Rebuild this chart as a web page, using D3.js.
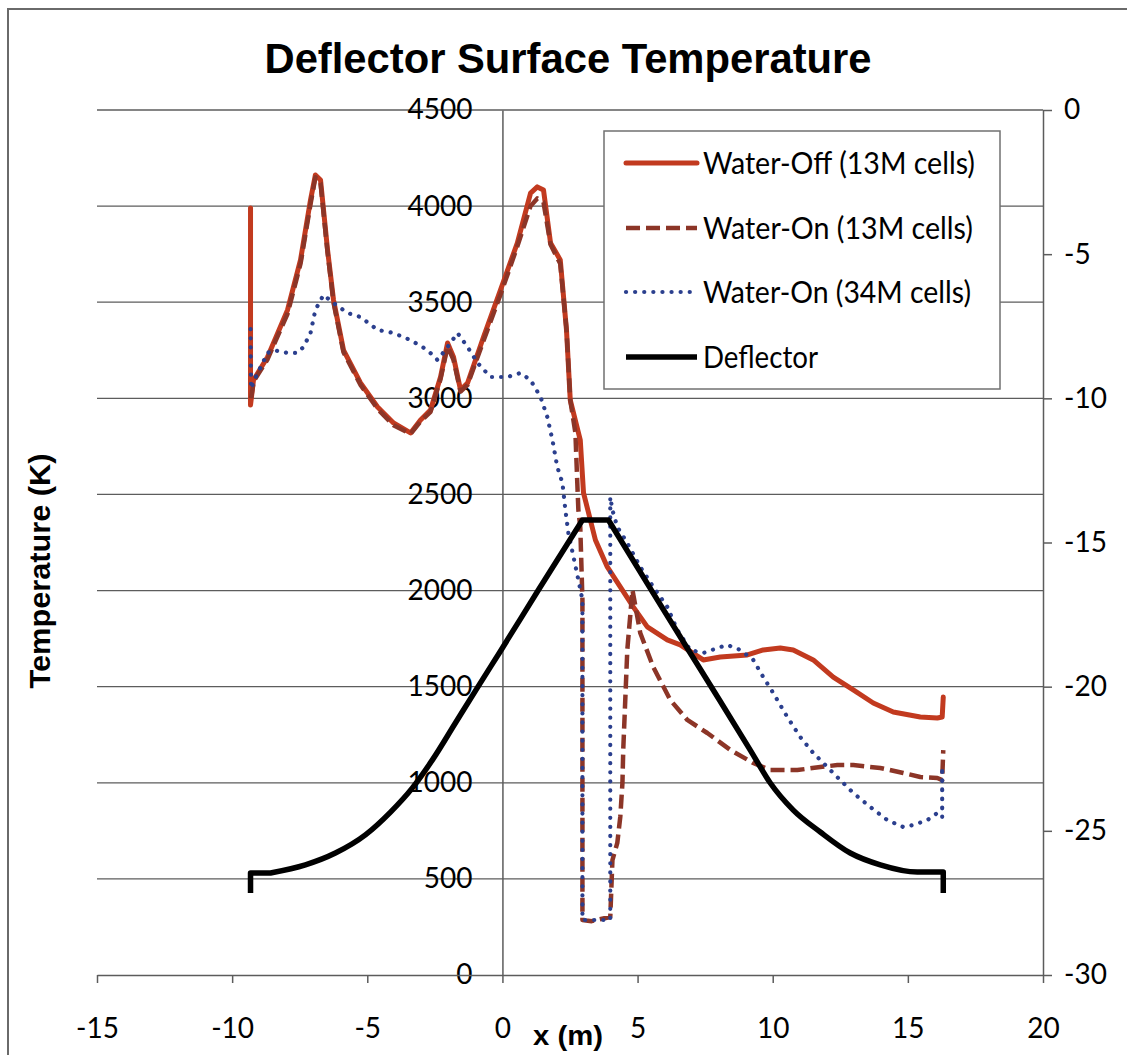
<!DOCTYPE html>
<html>
<head>
<meta charset="utf-8">
<script src="https://cdn.jsdelivr.net/npm/d3@7"></script>
<style>
  body { margin: 0; background: #fff; }
  svg { display: block; }
</style>
</head>
<body>
<svg id="chart"></svg>
<script>
// ticks
var xTicks = [-15, -10, -5, 0, 5, 10, 15, 20];
var tempTicks = [0, 500, 1000, 1500, 2000, 2500, 3000, 3500, 4000, 4500];
var depthTicks = [-30, -25, -20, -15, -10, -5, 0];

// series names
var seriesNames = ["Water-Off (13M cells)", "Water-On (13M cells)", "Water-On (34M cells)", "Deflector"];

// [x (m), temperature (K)]
var waterOff = [[-9.32, 3990], [-9.32, 2965], [-9.21, 3095], [-8.69, 3215], [-7.95, 3460], [-7.47, 3720],
  [-7.10, 4032], [-6.92, 4162], [-6.73, 4136], [-6.47, 3772], [-6.25, 3512], [-5.88, 3251], [-5.25, 3080],
  [-4.62, 2955], [-4.03, 2872], [-3.40, 2820], [-3.03, 2887], [-2.66, 2939], [-2.29, 3111], [-2.03, 3288],
  [-1.81, 3215], [-1.55, 3043], [-1.29, 3080], [-0.70, 3319], [-0.07, 3564], [0.55, 3808], [1.04, 4068],
  [1.29, 4100], [1.52, 4084], [1.78, 3808], [2.14, 3720], [2.37, 3356], [2.51, 2991], [2.88, 2783],
  [3.00, 2508], [3.44, 2263], [3.88, 2123], [4.36, 2019], [4.84, 1915], [5.36, 1811], [6.10, 1743],
  [6.58, 1717], [7.43, 1639], [8.06, 1654], [9.06, 1665], [9.65, 1691], [10.28, 1701], [10.76, 1691],
  [11.50, 1639], [12.24, 1550], [12.98, 1483], [13.72, 1415], [14.46, 1368], [15.46, 1342], [16.09, 1337],
  [16.27, 1342], [16.31, 1446]];

var waterOn13 = [[-9.30, 3000], [-9.20, 3090], [-8.70, 3200], [-7.95, 3440], [-7.47, 3700], [-7.10, 4010],
  [-6.92, 4150], [-6.73, 4120], [-6.47, 3760], [-6.25, 3500], [-5.88, 3240], [-5.25, 3070], [-4.62, 2945],
  [-4.03, 2860], [-3.40, 2815], [-3.03, 2880], [-2.66, 2930], [-2.29, 3100], [-2.03, 3270], [-1.81, 3200],
  [-1.55, 3035], [-1.29, 3070], [-0.70, 3300], [-0.07, 3540], [0.55, 3790], [1.04, 4000], [1.29, 4040],
  [1.52, 4020], [1.78, 3800], [2.14, 3700], [2.37, 3360], [2.51, 2991], [2.70, 2820], [2.77, 2560],
  [2.81, 2419], [2.88, 2331], [2.96, 1951], [2.96, 286], [3.30, 280], [3.60, 290], [3.99, 302],
  [4.07, 598], [4.25, 687], [4.36, 822], [4.44, 999], [4.47, 1171], [4.62, 1691], [4.81, 2003],
  [5.10, 1779], [5.58, 1602], [6.21, 1431], [6.84, 1327], [7.58, 1259], [8.43, 1171], [9.28, 1103],
  [9.91, 1066], [10.91, 1066], [11.76, 1082], [12.39, 1092], [12.98, 1092], [13.98, 1077], [14.83, 1051],
  [15.46, 1030], [16.09, 1025], [16.27, 1014], [16.31, 1170]];

var waterOn34 = [[-9.32, 3360], [-9.30, 3050], [-9.20, 3090], [-8.69, 3236], [-8.47, 3251], [-7.95, 3236],
  [-7.58, 3236], [-7.36, 3267], [-7.10, 3340], [-6.92, 3460], [-6.62, 3538], [-6.25, 3496], [-5.73, 3444],
  [-5.25, 3423], [-4.62, 3356], [-4.03, 3340], [-3.40, 3303], [-2.77, 3251], [-2.40, 3199], [-2.03, 3267],
  [-1.66, 3340], [-1.29, 3267], [-0.92, 3184], [-0.44, 3111], [0.18, 3111], [0.67, 3132], [1.04, 3095],
  [1.41, 3007], [1.66, 2903], [1.85, 2783], [2.03, 2643], [2.22, 2560], [2.33, 2419], [2.44, 2299],
  [2.63, 2175], [2.81, 2055], [2.96, 1951], [2.96, 286], [3.99, 286], [3.99, 2487], [4.07, 2419],
  [4.25, 2331], [4.62, 2247], [5.10, 2123], [5.58, 2019], [6.10, 1915], [6.47, 1795], [6.95, 1691],
  [7.43, 1675], [8.06, 1706], [8.32, 1717], [8.80, 1691], [9.28, 1639], [9.65, 1550], [10.02, 1467],
  [10.54, 1342], [11.02, 1238], [11.50, 1155], [12.02, 1082], [12.50, 1014], [12.98, 947], [13.61, 874],
  [14.24, 806], [14.83, 770], [15.20, 780], [15.72, 806], [16.09, 843], [16.27, 858], [16.27, 1082],
  [16.27, 791]];

// [x (m), elevation (m)] on the right axis
var deflector = [[-9.32, -27.16], [-9.32, -26.46], [-8.58, -26.46], [-7.29, -26.18], [-6.18, -25.77],
  [-5.07, -25.14], [-4.14, -24.35], [-3.33, -23.51], [-2.59, -22.54], [-1.74, -21.26], [-0.89, -19.98],
  [-0.07, -18.76], [1.33, -16.65], [2.96, -14.22], [3.92, -14.22], [5.51, -16.65], [6.88, -18.73],
  [8.03, -20.46], [9.17, -22.20], [9.91, -23.34], [10.76, -24.28], [11.76, -25.04], [12.87, -25.77],
  [13.98, -26.18], [15.35, -26.43], [16.31, -26.43], [16.31, -27.16]];

var W = 1127, H = 1055;
var tickFont = "Lato, 'Open Sans', sans-serif";
var gridColor = "#5c5c5c";
var fmt = function(d) { return String(d); }; // plain "-5", no thousands comma

function dibujar() {
  var svg = d3.select("#chart").attr("width", W).attr("height", H);

  var x = d3.scaleLinear().domain([-15, 20]).range([97, 1043]);
  var yT = d3.scaleLinear().domain([0, 4500]).range([975, 110]);
  var yD = d3.scaleLinear().domain([-30, 0]).range([975, 110]);

  // outer frame (only top and left edges are visible in the scan)
  svg.append("path")
    .attr("d", "M8," + H + " V9 H" + W)
    .attr("fill", "none").attr("stroke", "#6a6a6a").attr("stroke-width", 2);

  // title
  svg.append("text")
    .attr("x", 568).attr("y", 73)
    .attr("text-anchor", "middle")
    .attr("font-family", "'Liberation Sans', Arial, sans-serif")
    .attr("font-weight", "bold").attr("font-size", 42)
    .attr("textLength", 607).attr("lengthAdjust", "spacingAndGlyphs")
    .text("Deflector Surface Temperature");

  // horizontal grid lines
  svg.append("g").selectAll("line")
    .data(tempTicks.filter(function(t) { return t > 0; }))
    .enter().append("line")
    .attr("x1", x(-15)).attr("x2", x(20))
    .attr("y1", function(d) { return yT(d); })
    .attr("y2", function(d) { return yT(d); })
    .attr("stroke", gridColor).attr("stroke-width", 1.3);

  // left axis crosses at x = 0
  var axL = svg.append("g")
    .attr("transform", "translate(" + x(0) + ",0)")
    .call(d3.axisLeft(yT).tickValues(tempTicks).tickFormat(fmt).tickSize(0).tickSizeOuter(0).tickPadding(30));

  // bottom axis
  var axB = svg.append("g")
    .attr("transform", "translate(0," + yT(0) + ")")
    .call(d3.axisBottom(x).tickValues(xTicks).tickFormat(fmt).tickSize(8).tickSizeOuter(0));
  axB.selectAll("text").attr("y", 53).attr("dy", "0.35em");

  // right axis (deflector elevation)
  var axR = svg.append("g")
    .attr("transform", "translate(" + x(20) + ",0)")
    .call(d3.axisRight(yD).tickValues(depthTicks).tickFormat(fmt).tickSize(9).tickSizeOuter(0).tickPadding(12));

  [axL, axB, axR].forEach(function(a) {
    a.selectAll("path, line").attr("stroke", gridColor).attr("stroke-width", 1.5);
    a.selectAll("text").attr("font-family", tickFont).attr("font-size", 28).attr("fill", "#000");
  });

  // axis titles
  svg.append("text")
    .attr("transform", "translate(50,571) rotate(-90)")
    .attr("text-anchor", "middle")
    .attr("font-family", "'Liberation Sans', Arial, sans-serif")
    .attr("font-weight", "bold").attr("font-size", 29)
    .attr("textLength", 235).attr("lengthAdjust", "spacingAndGlyphs")
    .text("Temperature (K)");

  svg.append("text")
    .attr("x", 568).attr("y", 1045)
    .attr("text-anchor", "middle")
    .attr("font-family", "'Liberation Sans', Arial, sans-serif")
    .attr("font-weight", "bold").attr("font-size", 27)
    .attr("textLength", 70).attr("lengthAdjust", "spacingAndGlyphs")
    .text("x (m)");

  // lines
  var lineT = d3.line().x(function(d) { return x(d[0]); }).y(function(d) { return yT(d[1]); });
  var lineD = d3.line().x(function(d) { return x(d[0]); }).y(function(d) { return yD(d[1]); });
  var lineDs = d3.line().curve(d3.curveMonotoneX)
    .x(function(d) { return x(d[0]); }).y(function(d) { return yD(d[1]); });

  // deflector: straight end stubs and flat top, smooth flanks
  var deflectorPath = function(d) {
    var n = d.length;
    var top = d3.max(d, function(p) { return p[1]; });
    var iL = d.findIndex(function(p) { return p[1] === top; });
    var iR = iL + 1;
    return lineD(d.slice(0, 3)) +
      lineDs(d.slice(2, iL + 1)).replace(/^M/, "L") +
      lineDs(d.slice(iR, n - 1)).replace(/^M/, "L") +
      lineD(d.slice(n - 2)).replace(/^M/, "L");
  };

  var estilos = [
    { data: waterOff, gen: lineT, color: "#c23a1f", width: 5, dash: null, cap: "round" },
    { data: waterOn13, gen: lineT, color: "#8c3527", width: 4.5, dash: "14,6", cap: "butt" },
    { data: waterOn34, gen: lineT, color: "#2b3f8e", width: 4.2, dash: "0.1,9", cap: "round" },
    { data: deflector, gen: deflectorPath, color: "#000", width: 5.5, dash: null, cap: "butt" }
  ];

  estilos.forEach(function(s) {
    svg.append("path")
      .datum(s.data)
      .attr("d", s.gen)
      .attr("fill", "none")
      .attr("stroke", s.color)
      .attr("stroke-width", s.width)
      .attr("stroke-dasharray", s.dash)
      .attr("stroke-linecap", s.cap)
      .attr("stroke-linejoin", "round");
  });

  // legend
  var leg = svg.append("g");
  leg.append("rect")
    .attr("x", 604).attr("y", 131).attr("width", 396).attr("height", 258)
    .attr("fill", "#fff").attr("stroke", "#707070").attr("stroke-width", 1.5);

  var legY = [163, 228, 292, 357];
  var legLen = [272, 270, 268, 115];
  estilos.forEach(function(s, i) {
    leg.append("line")
      .attr("x1", 626).attr("x2", 697)
      .attr("y1", legY[i]).attr("y2", legY[i])
      .attr("stroke", s.color).attr("stroke-width", s.width)
      .attr("stroke-dasharray", s.dash).attr("stroke-linecap", s.cap);
    leg.append("text")
      .attr("x", 703).attr("y", legY[i]).attr("dy", "0.36em")
      .attr("font-family", tickFont).attr("font-size", 30).attr("fill", "#000")
      .attr("textLength", legLen[i]).attr("lengthAdjust", "spacingAndGlyphs")
      .text(seriesNames[i]);
  });
}

dibujar();
</script>
</body>
</html>
